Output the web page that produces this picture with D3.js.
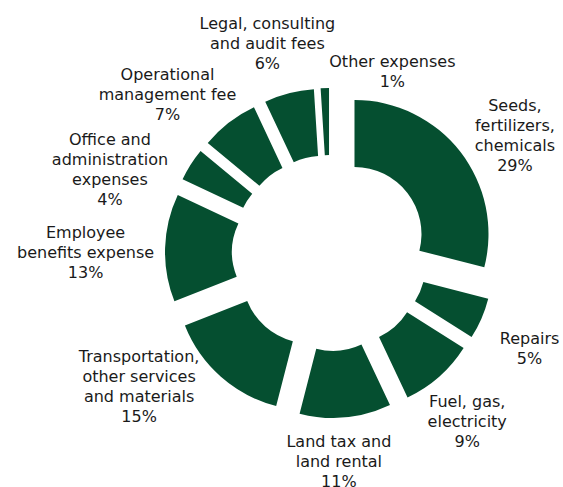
<!DOCTYPE html>
<html>
<head>
<meta charset="utf-8">
<script src="https://cdn.jsdelivr.net/npm/d3@7"></script>
<style>
  html, body { margin: 0; padding: 0; background: #fff; }
  svg { display: block; }
  text { font-family: "DejaVu Sans", Verdana, sans-serif; font-size: 16px; fill: #1a1a1a; }
</style>
</head>
<body>
<svg id="chart" width="563" height="487"></svg>
<script>
// Data
const categories = [
  "Seeds,\nfertilizers,\nchemicals",
  "Repairs",
  "Fuel, gas,\nelectricity",
  "Land tax and\nland rental",
  "Transportation,\nother services\nand materials",
  "Employee\nbenefits expense",
  "Office and\nadministration\nexpenses",
  "Operational\nmanagement fee",
  "Legal, consulting\nand audit fees",
  "Other expenses"
];
const values = [29, 5, 9, 11, 15, 13, 4, 7, 6, 1];

// Label fine adjustments (layout, px)
const labelNudge = [
  [11, 18], [7, 17], [-8, 11], [-13, 0], [-32, -31],
  [4, 7], [-19, 35], [-10, 8], [-1, -6], [70, 19]
];

const W = 563, H = 487;
const cx = 330, cy = 253;
const outerR = 134, innerR = 67, explode = 31, labelR = 180;
const lineH = 20;
const color = "#054f30";

const svg = d3.select("#chart");
const data = categories.map((c, i) => ({ name: c, value: values[i], i }));
const total = d3.sum(values);

const pie = d3.pie().value(d => d.value).sort(null).startAngle(0).endAngle(2 * Math.PI);
const arcs = pie(data);
const arc = d3.arc().innerRadius(innerR).outerRadius(outerR);

const g = svg.append("g").attr("transform", `translate(${cx},${cy})`);

g.selectAll("path.slice").data(arcs).enter().append("path")
  .attr("class", "slice")
  .attr("d", arc)
  .attr("fill", color)
  .attr("transform", d => {
    const a = (d.startAngle + d.endAngle) / 2;
    return `translate(${Math.sin(a) * explode},${-Math.cos(a) * explode})`;
  });

const labels = g.selectAll("text.lbl").data(arcs).enter().append("text")
  .attr("class", "lbl")
  .attr("text-anchor", "middle");

labels.each(function(d) {
  const lines = d.data.name.split("\n").concat([Math.round(d.data.value / total * 100) + "%"]);
  const t = d3.select(this);
  lines.forEach((l, k) => {
    t.append("tspan").attr("x", 0).attr("y", k * lineH).text(l);
  });
  const n = lines.length;
  let w = 0;
  t.selectAll("tspan").each(function() { w = Math.max(w, this.getComputedTextLength()); });
  const h = n * lineH;
  const a = (d.startAngle + d.endAngle) / 2;
  const ux = Math.sin(a), uy = -Math.cos(a);
  const nd = labelNudge[d.index];
  const mx = ux * labelR + ux * w / 2 + nd[0];
  const my = uy * labelR + uy * h / 2 + nd[1];
  const y0 = my - h / 2 + lineH / 2 + 5;
  t.attr("transform", `translate(${mx},${y0})`);
});
</script>
</body>
</html>
